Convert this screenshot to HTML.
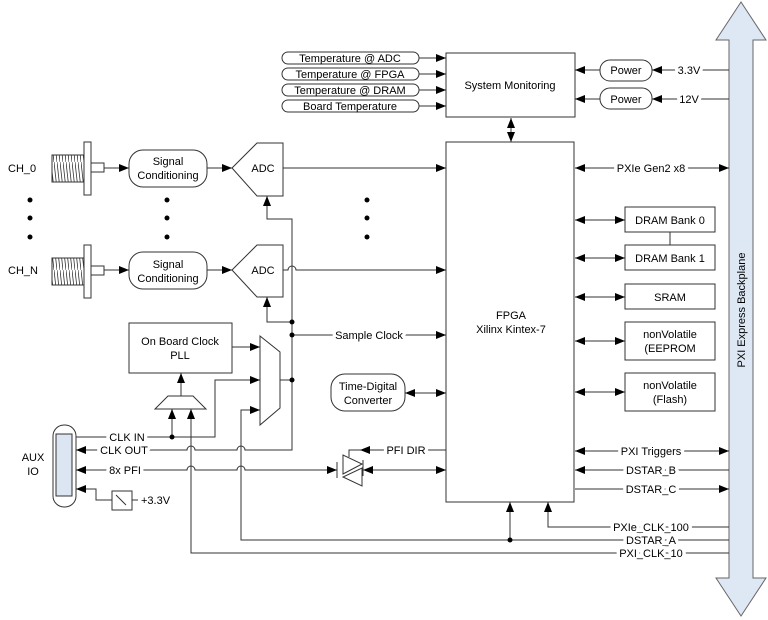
<!DOCTYPE html>
<html><head><meta charset="utf-8"><style>
html,body{margin:0;padding:0;background:#fff;}
svg{display:block;font-family:"Liberation Sans",Arial,sans-serif;font-size:11px;}
</style></head><body>
<svg width="768" height="620" viewBox="0 0 768 620" xmlns="http://www.w3.org/2000/svg">
<defs>
<marker id="a" markerWidth="10" markerHeight="8" refX="10" refY="4" orient="auto-start-reverse" markerUnits="userSpaceOnUse"><path d="M0,0L10,4L0,8z" fill="#000"/></marker>
<pattern id="th" width="3" height="27" patternUnits="userSpaceOnUse"><line x1="0" y1="0" x2="3" y2="27" stroke="#333" stroke-width="0.8"/></pattern>
</defs>
<g stroke="#333" stroke-width="1" fill="none">
<path d="M729,578 V40 H716 L741,2 L766,40 H753 V578 H766 L741,616 L716,578 Z" fill="#dee8f5" stroke="#666"/>
<rect x="446" y="53" width="129" height="64" fill="#fff"/>
<rect x="282" y="52" width="137" height="12" rx="6" fill="#fff"/>
<rect x="282" y="68" width="137" height="12" rx="6" fill="#fff"/>
<rect x="282" y="84" width="137" height="12" rx="6" fill="#fff"/>
<rect x="282" y="100" width="137" height="12" rx="6" fill="#fff"/>
<line x1="419" y1="58" x2="446" y2="58" marker-end="url(#a)"/>
<line x1="419" y1="74" x2="446" y2="74" marker-end="url(#a)"/>
<line x1="419" y1="90" x2="446" y2="90" marker-end="url(#a)"/>
<line x1="419" y1="106" x2="446" y2="106" marker-end="url(#a)"/>
<rect x="600" y="60" width="52" height="21" rx="10" fill="#fff"/>
<rect x="600" y="88" width="52" height="21" rx="10" fill="#fff"/>
<line x1="600" y1="70" x2="575" y2="70" marker-end="url(#a)"/>
<line x1="600" y1="99" x2="575" y2="99" marker-end="url(#a)"/>
<line x1="729" y1="70" x2="652" y2="70" marker-end="url(#a)"/>
<line x1="729" y1="99" x2="652" y2="99" marker-end="url(#a)"/>
<line x1="511" y1="118" x2="511" y2="142" marker-start="url(#a)" marker-end="url(#a)"/>
<rect x="446" y="142" width="128" height="360" fill="#fff"/>
<line x1="575" y1="168" x2="729" y2="168" marker-start="url(#a)" marker-end="url(#a)"/>
<rect x="625" y="207" width="90" height="25"/>
<rect x="625" y="245" width="90" height="25"/>
<line x1="670" y1="232" x2="670" y2="245"/>
<rect x="625" y="284" width="90" height="25"/>
<rect x="625" y="322" width="90" height="38"/>
<rect x="625" y="373" width="90" height="38"/>
<line x1="575" y1="220" x2="625" y2="220" marker-start="url(#a)" marker-end="url(#a)"/>
<line x1="575" y1="258" x2="625" y2="258" marker-start="url(#a)" marker-end="url(#a)"/>
<line x1="575" y1="297" x2="625" y2="297" marker-start="url(#a)" marker-end="url(#a)"/>
<line x1="575" y1="341" x2="625" y2="341" marker-start="url(#a)" marker-end="url(#a)"/>
<line x1="575" y1="392" x2="625" y2="392" marker-start="url(#a)" marker-end="url(#a)"/>
<line x1="575" y1="451" x2="729" y2="451" marker-start="url(#a)" marker-end="url(#a)"/>
<line x1="729" y1="470" x2="575" y2="470" marker-end="url(#a)"/>
<line x1="575" y1="489" x2="729" y2="489" marker-end="url(#a)"/>
<path d="M729,527 H548 V502" marker-end="url(#a)"/>
<path d="M729,540 H241 V410 H260" marker-end="url(#a)"/>
<path d="M510,540 V502" marker-end="url(#a)"/>
<path d="M729,553 H191 V409" marker-end="url(#a)"/>
<rect x="52" y="155" width="32" height="27" fill="url(#th)"/>
<rect x="84" y="142" width="7" height="53" fill="#fff"/>
<rect x="91" y="163" width="13" height="9" fill="#fff"/>
<line x1="104" y1="168" x2="129" y2="168" marker-end="url(#a)"/>
<rect x="129" y="150" width="78" height="37" rx="14" fill="#fff"/>
<line x1="207" y1="168" x2="232" y2="168" marker-end="url(#a)"/>
<path d="M232,168 L257,143 H283 V196 H257 Z" fill="#fff"/>
<line x1="283" y1="168" x2="446" y2="168" marker-end="url(#a)"/>
<rect x="52" y="258" width="32" height="27" fill="url(#th)"/>
<rect x="84" y="245" width="7" height="53" fill="#fff"/>
<rect x="91" y="266" width="13" height="9" fill="#fff"/>
<line x1="104" y1="270" x2="129" y2="270" marker-end="url(#a)"/>
<rect x="129" y="252" width="78" height="37" rx="14" fill="#fff"/>
<line x1="207" y1="270" x2="232" y2="270" marker-end="url(#a)"/>
<path d="M232,270 L257,245 H283 V297 H257 Z" fill="#fff"/>
<path d="M283,270 H288 A4,4 0 0 1 296,270 H446" marker-end="url(#a)"/>
<path d="M292,380 V219 H267 V196" marker-end="url(#a)"/>
<path d="M292,322 H267 V297" marker-end="url(#a)"/>
<line x1="292" y1="335" x2="446" y2="335" marker-end="url(#a)"/>
<rect x="129" y="323" width="103" height="50" fill="#fff"/>
<line x1="232" y1="347" x2="260" y2="347" marker-end="url(#a)"/>
<path d="M260,336 L280,352 V408 L260,425 Z" fill="#fff"/>
<line x1="280" y1="380" x2="292" y2="380"/>
<path d="M168,396 H193 L206,409 H155 Z" fill="#fff"/>
<line x1="181" y1="396" x2="181" y2="373" marker-end="url(#a)"/>
<path d="M76,437 H215 V380 H260" marker-end="url(#a)"/>
<path d="M172,437 V409" marker-end="url(#a)"/>
<path d="M292,380 V450 H245 A4,4 0 0 0 237,450 H195 A4,4 0 0 0 187,450 H76" marker-end="url(#a)"/>
<path d="M76,470 H187 A4,4 0 0 1 195,470 H237 A4,4 0 0 1 245,470 H337" marker-start="url(#a)" marker-end="url(#a)"/>
<path d="M446,450 H349 V457"/>
<path d="M370,450 H360" marker-end="url(#a)"/>
<line x1="363" y1="470" x2="446" y2="470" marker-start="url(#a)" marker-end="url(#a)"/>
<path d="M343,455 V474 L362,464 Z" fill="#fff"/>
<path d="M362,468 V486 L343,477 Z" fill="#fff"/>
<path d="M337,462 V478 M363,460 V476"/>
<rect x="53" y="425" width="23" height="82" rx="11" fill="#fff"/>
<rect x="56" y="434" width="16" height="62" fill="#dce6f2"/>
<path d="M112,500 H96 V489 H76" marker-end="url(#a)"/>
<rect x="112" y="491" width="20" height="19" fill="#fff"/>
<path d="M116,495 L126,505 M132,500 H138"/>
<rect x="331" y="374" width="74" height="37" rx="14" fill="#fff"/>
<line x1="405" y1="393" x2="446" y2="393" marker-start="url(#a)" marker-end="url(#a)"/>
</g>
<g fill="#000">
<circle cx="30" cy="200" r="2.5"/><circle cx="30" cy="218" r="2.5"/><circle cx="30" cy="237" r="2.5"/>
<circle cx="167" cy="200" r="2.5"/><circle cx="167" cy="218" r="2.5"/><circle cx="167" cy="237" r="2.5"/>
<circle cx="367" cy="200" r="2.5"/><circle cx="367" cy="218" r="2.5"/><circle cx="367" cy="237" r="2.5"/>
<circle cx="292" cy="322" r="2.5"/><circle cx="292" cy="335" r="2.5"/><circle cx="292" cy="380" r="2.5"/>
<circle cx="172" cy="437" r="2.5"/><circle cx="510" cy="540" r="2.5"/>
</g>
<g fill="#000" text-anchor="middle">
<text x="350" y="62">Temperature @ ADC</text>
<text x="350" y="78">Temperature @ FPGA</text>
<text x="350" y="94">Temperature @ DRAM</text>
<text x="350" y="110">Board Temperature</text>
<text x="510" y="89">System Monitoring</text>
<text x="626" y="74">Power</text>
<text x="626" y="103">Power</text>
<text x="511" y="319">FPGA</text>
<text x="511" y="333">Xilinx Kintex-7</text>
<text x="670" y="224">DRAM Bank 0</text>
<text x="670" y="262">DRAM Bank 1</text>
<text x="670" y="301">SRAM</text>
<text x="670" y="338">nonVolatile</text>
<text x="670" y="352">(EEPROM</text>
<text x="670" y="389">nonVolatile</text>
<text x="670" y="403">(Flash)</text>
<text x="168" y="165">Signal</text>
<text x="168" y="179">Conditioning</text>
<text x="168" y="268">Signal</text>
<text x="168" y="282">Conditioning</text>
<text x="263" y="172">ADC</text>
<text x="263" y="274">ADC</text>
<text x="180" y="345">On Board Clock</text>
<text x="180" y="359">PLL</text>
<text x="368" y="390">Time-Digital</text>
<text x="368" y="404">Converter</text>
<text x="33" y="461">AUX</text>
<text x="33" y="475">IO</text>
</g>
<g fill="#000" text-anchor="middle" style="paint-order:stroke" stroke="#fff" stroke-width="7" stroke-linejoin="round">
<text x="689" y="74">3.3V</text>
<text x="689" y="103">12V</text>
<text x="651" y="172">PXIe Gen2 x8</text>
<text x="369" y="339">Sample Clock</text>
<text x="127" y="441">CLK IN</text>
<text x="124" y="454">CLK OUT</text>
<text x="125" y="474">8x PFI</text>
<text x="406" y="454">PFI DIR</text>
<text x="651" y="455">PXI Triggers</text>
<text x="651" y="474">DSTAR_B</text>
<text x="651" y="493">DSTAR_C</text>
<text x="651" y="531">PXIe_CLK_100</text>
<text x="651" y="544">DSTAR_A</text>
<text x="651" y="557">PXI_CLK_10</text>
</g>
<text x="8" y="172" fill="#000">CH_0</text>
<text x="8" y="274" fill="#000">CH_N</text>
<text x="141" y="504" fill="#000">+3.3V</text>
<text x="745" y="310" fill="#000" text-anchor="middle" transform="rotate(-90 745 310)">PXI Express Backplane</text>
</svg>
</body></html>
